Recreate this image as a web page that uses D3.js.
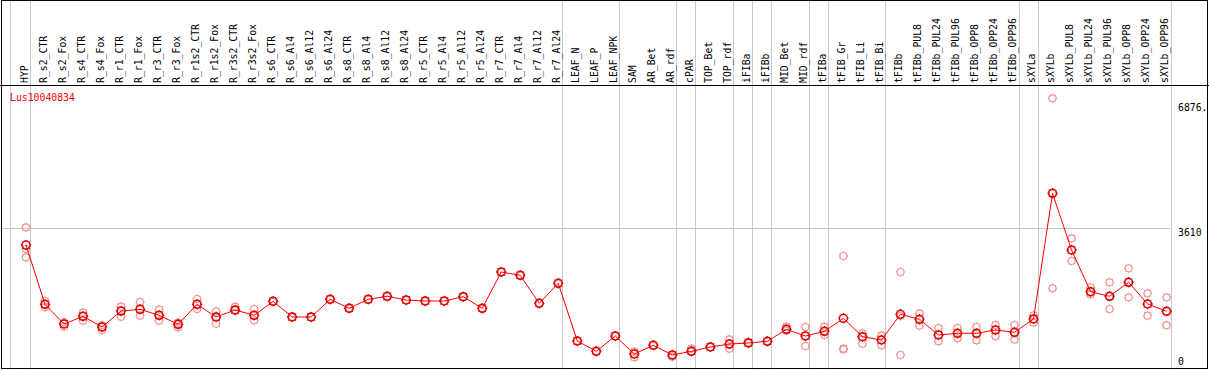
<!DOCTYPE html>
<html>
<head>
<meta charset="utf-8">
<title>Lus10040834</title>
<script src="https://cdn.jsdelivr.net/npm/d3@7/dist/d3.min.js"></script>
<style>
body { margin: 0; background: #fff; }
text { font-family: "DejaVu Sans Mono", monospace; font-size: 9.8px; }
</style>
</head>
<body>
<script>
// sample names (one column each)
var samples = ["HYP","R_s2_CTR","R_s2_Fox","R_s4_CTR","R_s4_Fox","R_r1_CTR","R_r1_Fox","R_r3_CTR","R_r3_Fox",
  "R_r1s2_CTR","R_r1s2_Fox","R_r3s2_CTR","R_r3s2_Fox","R_s6_CTR","R_s6_Al4","R_s6_Al12","R_s6_Al24",
  "R_s8_CTR","R_s8_Al4","R_s8_Al12","R_s8_Al24","R_r5_CTR","R_r5_Al4","R_r5_Al12","R_r5_Al24",
  "R_r7_CTR","R_r7_Al4","R_r7_Al12","R_r7_Al24","LEAF_N","LEAF_P","LEAF_NPK","SAM","AR_Bet","AR_rdf",
  "cPAR","TOP_Bet","TOP_rdf","iFIBa","iFIBb","MID_Bet","MID_rdf","tFIBa","tFIB_Gr","tFIB_Li","tFIB_Bi",
  "tFIBb","tFIBb_PUL8","tFIBb_PUL24","tFIBb_PUL96","tFIBb_OPP8","tFIBb_OPP24","tFIBb_OPP96",
  "sXYLa","sXYLb","sXYLb_PUL8","sXYLb_PUL24","sXYLb_PUL96","sXYLb_OPP8","sXYLb_OPP24","sXYLb_OPP96"];

// last sample of each tissue group
var groupEnds = ["HYP","R_r7_Al24","LEAF_NPK","AR_rdf","cPAR","TOP_rdf","iFIBa","iFIBb","MID_rdf",
  "tFIBa","tFIB_Bi","tFIBb_OPP96","sXYLa","sXYLb_OPP96"];

var geneName = "Lus10040834";

// mean expression
var meanValues = [3190,1700,1206,1399,1131,1532,1575,1424,1198,1700,1382,1558,1424,1776,1382,1382,1826,
  1600,1826,1902,1809,1784,1784,1892,1600,2512,2429,1726,2228,779,520,904,452,671,427,520,628,703,729,
  771,1073,904,1022,1349,887,804,1450,1324,930,972,972,1055,997,1332,4489,3065,2017,1902,2254,1708,1525];

// replicates
var rep1 = [3635,1784,1256,1490,1173,1641,1759,1565,1239,1834,1525,1641,1583,1776,1382,1382,1826,
  1600,1826,1902,1809,1784,1784,1892,1600,2512,2429,1726,2228,779,520,904,510,671,427,585,628,822,754,
  771,1138,1131,1138,2914,972,912,2512,1475,1105,1105,1131,1181,1181,1424,6876,3359,2128,2254,2605,1977,1877];
var rep2 = [2882,1625,1138,1289,1055,1389,1414,1289,1123,1583,1213,1540,1299,1776,1382,1382,1826,
  1600,1826,1902,1809,1784,1784,1892,1600,2512,2429,1726,2228,779,520,904,369,671,384,520,628,585,729,
  771,1038,653,930,590,711,671,427,1163,771,847,796,897,811,1239,2103,2789,1952,1583,1877,1414,1173];
var rep3 = [3090,1700,1206,1399,1131,1532,1575,1424,1198,1700,1382,1558,1424,1776,1382,1382,1826,
  1600,1826,1902,1809,1784,1784,1892,1600,2512,2429,1726,2228,779,520,904,452,671,427,520,628,703,729,
  771,1073,904,1022,565,887,804,1411,1324,930,972,972,1055,997,1332,4488,3065,2017,1902,2254,1708,1525];

var tickValues = [6876, 3610, 0];
var tickLabels = ["6876.", "3610", "0"];

var width = 1209, height = 370;
var headerBottom = 85;

var svg = d3.select("body").append("svg").attr("width", width).attr("height", height);

var x = d3.scalePoint().domain(samples).range([26, 1166.6]);
var y = d3.scaleLinear().domain([0, 6876]).range([372, 98.3]);

// grid
svg.append("line")
  .attr("x1", 10.5).attr("x2", 10.5).attr("y1", 0).attr("y2", height)
  .attr("stroke", "#c8c8c8");

svg.append("g").selectAll("line")
  .data(groupEnds)
  .enter()
  .append("line")
  .attr("x1", function(d) { return Math.round(x(d) + 4) + 0.5; })
  .attr("x2", function(d) { return Math.round(x(d) + 4) + 0.5; })
  .attr("y1", 0).attr("y2", height)
  .attr("stroke", "#c8c8c8");

svg.append("g").selectAll("line")
  .data(tickValues.filter(function(v) { return v > 0 && v < 6876; }))
  .enter()
  .append("line")
  .attr("x1", 1).attr("x2", 1170)
  .attr("y1", function(d) { return Math.round(y(d)) + 0.5; })
  .attr("y2", function(d) { return Math.round(y(d)) + 0.5; })
  .attr("stroke", "#c8c8c8");

// frame
svg.append("rect")
  .attr("x", 1.5).attr("y", 0.5).attr("width", width - 3).attr("height", height - 2)
  .attr("fill", "none").attr("stroke", "#000");
svg.append("line")
  .attr("x1", 0).attr("x2", width).attr("y1", headerBottom + 0.5).attr("y2", headerBottom + 0.5)
  .attr("stroke", "#000");

// header labels
svg.append("g").selectAll("text")
  .data(samples)
  .enter()
  .append("text")
  .attr("transform", function(d) { return "translate(" + (x(d) + 1.5) + "," + 83 + ") rotate(-90)"; })
  .attr("fill", "#000")
  .text(function(d) { return d; });

svg.append("text")
  .attr("x", 10).attr("y", 100.7)
  .attr("fill", "red")
  .text(geneName);

// right axis labels
svg.append("g").selectAll("text")
  .data(tickValues)
  .enter()
  .append("text")
  .attr("x", 1178)
  .attr("y", function(d) { return Math.max(110.7, Math.min(365, y(d) + 7.4)); })
  .attr("fill", "#000")
  .text(function(d, i) { return tickLabels[i]; });

// marker with small ticks around the ring
function marker(g, cx, cy, r, color, sw) {
  g.append("circle").attr("cx", cx).attr("cy", cy).attr("r", r)
    .attr("fill", "none").attr("stroke", color).attr("stroke-width", sw);
  var ticks = "";
  [0, 90, 180, 270, 45, 135, 225, 315].forEach(function(a) {
    var t = a * Math.PI / 180;
    ticks += "M" + (cx + Math.cos(t) * r) + "," + (cy + Math.sin(t) * r) +
      "L" + (cx + Math.cos(t) * (r + 1.2)) + "," + (cy + Math.sin(t) * (r + 1.2));
  });
  g.append("path").attr("d", ticks).attr("stroke", color).attr("stroke-width", 1);
}

var faint = svg.append("g");
[rep1, rep2, rep3].forEach(function(rep) {
  rep.forEach(function(v, i) {
    marker(faint, x(samples[i]), y(v), 3.5, "#f09696", 1.2);
  });
});

svg.append("path")
  .datum(meanValues)
  .attr("fill", "none")
  .attr("stroke", "red")
  .attr("stroke-width", 1)
  .attr("d", d3.line()
    .x(function(d, i) { return x(samples[i]); })
    .y(function(d) { return y(d); }));

var main = svg.append("g");
meanValues.forEach(function(v, i) {
  marker(main, x(samples[i]), y(v), 4, "#e00000", 1.5);
});
</script>
</body>
</html>
